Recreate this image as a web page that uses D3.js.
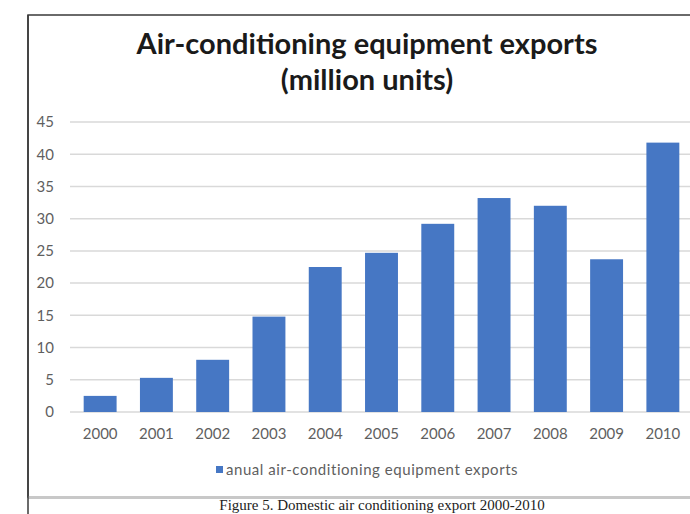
<!DOCTYPE html>
<html>
<head>
<meta charset="utf-8">
<script src="https://cdn.jsdelivr.net/npm/d3@7"></script>
<style>
  html, body { margin: 0; padding: 0; background: #fff; }
  svg { display: block; }
</style>
</head>
<body>
<script>
const years = ["2000","2001","2002","2003","2004","2005","2006","2007","2008","2009","2010"];
const exportsValues = [2.5, 5.3, 8.1, 14.8, 22.5, 24.7, 29.2, 33.2, 32.0, 23.7, 41.8];
const yTicks = [0, 5, 10, 15, 20, 25, 30, 35, 40, 45];
const titleLines = ["Air-conditioning equipment exports", "(million units)"];
const legendLabel = "anual air-conditioning equipment exports";
const captionText = "Figure 5. Domestic air conditioning export 2000-2010";

const W = 690, H = 514;
const svg = d3.select("body").append("svg").attr("width", W).attr("height", H);

// frame
svg.append("rect").attr("x", 28).attr("y", 15).attr("width", 700).attr("height", 482)
  .attr("fill", "#fff").attr("stroke", "#3a3a3a").attr("stroke-width", 1.5);
// bottom separator band
svg.append("line").attr("x1", 28).attr("x2", W).attr("y1", 497.5).attr("y2", 497.5)
  .attr("stroke", "#c8c8c8").attr("stroke-width", 3);
svg.append("line").attr("x1", 28).attr("x2", 28).attr("y1", 15).attr("y2", H)
  .attr("stroke", "#3a3a3a").attr("stroke-width", 1.5);

// title
const title = svg.append("text").attr("text-anchor", "middle")
  .attr("font-family", "Lato, 'Open Sans', sans-serif").attr("font-weight", "bold")
  .attr("font-size", 29).attr("fill", "#1a1a1a");
title.append("tspan").attr("x", 367).attr("y", 54).text(titleLines[0]);
title.append("tspan").attr("x", 367).attr("y", 90).text(titleLines[1]);

// scales
const x = d3.scaleBand().domain(years).range([72, 691]).paddingInner(0.415).paddingOuter(0.2075);
const y = d3.scaleLinear().domain([0, 45]).range([412, 122]);

// gridlines
svg.append("g").selectAll("line").data(yTicks).join("line")
  .attr("x1", 70).attr("x2", W)
  .attr("y1", d => y(d)).attr("y2", d => y(d))
  .attr("stroke", "#d9d9d9").attr("stroke-width", 1.5);

// y axis labels
const yAxis = d3.axisLeft(y).tickValues(yTicks).tickSize(0).tickPadding(0);
const yg = svg.append("g").attr("transform", "translate(54,0)").call(yAxis);
yg.select(".domain").remove();
yg.selectAll("text").attr("font-family", "Lato, sans-serif").attr("font-size", 15).attr("fill", "#5f5f5f");

// bars
svg.append("g").selectAll("rect").data(exportsValues).join("rect")
  .attr("x", (d, i) => x(years[i]))
  .attr("width", x.bandwidth())
  .attr("y", d => y(d))
  .attr("height", d => y(0) - y(d))
  .attr("fill", "#4677c4");

// x axis labels
const xAxis = d3.axisBottom(x).tickSize(0).tickPadding(0);
const xg = svg.append("g").attr("transform", "translate(0,428)").call(xAxis);
xg.select(".domain").remove();
xg.selectAll("text").attr("font-family", "Lato, sans-serif").attr("font-size", 15).attr("fill", "#5f5f5f");

// legend
svg.append("rect").attr("x", 216).attr("y", 466).attr("width", 7).attr("height", 7).attr("fill", "#4677c4");
svg.append("text").attr("x", 226).attr("y", 475)
  .attr("font-family", "Lato, sans-serif").attr("font-size", 15).attr("letter-spacing", 0.55).attr("fill", "#5f5f5f")
  .text(legendLabel);

// caption
svg.append("text").attr("x", 382).attr("y", 510).attr("text-anchor", "middle")
  .attr("font-family", "'Liberation Serif', 'DejaVu Serif', serif").attr("font-size", 15).attr("fill", "#222")
  .text(captionText);
</script>
</body>
</html>
